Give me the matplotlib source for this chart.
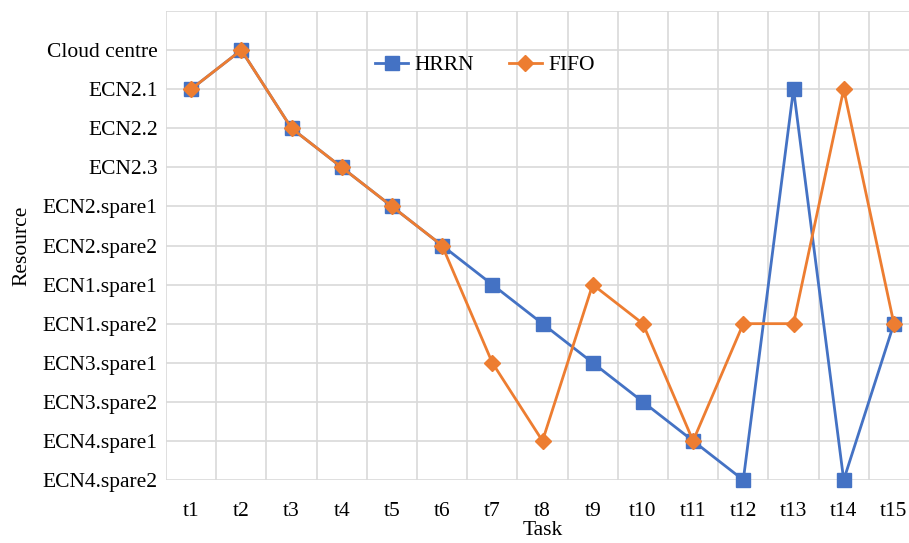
import matplotlib
matplotlib.use("Agg")
import matplotlib.pyplot as plt
import numpy as np

plt.rcParams['font.family'] = ['Liberation Serif', 'DejaVu Serif']

tasks = ['t1', 't2', 't3', 't4', 't5', 't6', 't7', 't8', 't9', 't10', 't11', 't12', 't13', 't14', 't15']
resources = ['ECN4.spare2', 'ECN4.spare1', 'ECN3.spare2', 'ECN3.spare1', 'ECN1.spare2', 'ECN1.spare1',
             'ECN2.spare2', 'ECN2.spare1', 'ECN2.3', 'ECN2.2', 'ECN2.1', 'Cloud centre']

# resource index (0 = ECN4.spare2 ... 11 = Cloud centre)
hrrn = [10, 11, 9, 8, 7, 6, 5, 4, 3, 2, 1, 0, 10, 0, 4]
fifo = [10, 11, 9, 8, 7, 6, 3, 1, 5, 4, 1, 4, 4, 10, 4]

fig = plt.figure(figsize=(9.09, 5.43), dpi=100)
ax = fig.add_axes([166 / 909, 1 - 480 / 543, 753 / 909, 469 / 543])

x = np.arange(1, len(tasks) + 1)
ax.plot(x, hrrn, color='#4472C4', marker='s', markersize=10, linewidth=2, label='HRRN', zorder=3, clip_on=False)
ax.plot(x, fifo, color='#ED7D31', marker='D', markersize=8, linewidth=2, label='FIFO', zorder=4, clip_on=False)

ax.set_xlim(0.5, len(tasks) + 0.5)
ax.set_ylim(0, 12)
ax.set_xticks(x)
ax.set_xticklabels(tasks, fontsize=15.5)
ax.set_xticks(np.arange(0.5, len(tasks) + 1), minor=True)
ax.set_yticks(np.arange(0, 13))
ax.set_yticklabels(resources + [''], fontsize=15.5)
ax.tick_params(which='both', length=0)
ax.tick_params(axis='x', pad=16)
ax.tick_params(axis='y', pad=6)
ax.grid(True, which='minor', axis='x', color='#D9D9D9', linewidth=1.2)
ax.grid(True, which='major', axis='y', color='#D9D9D9', linewidth=1.2)
ax.set_axisbelow(True)
for s in ax.spines.values():
    s.set_visible(False)

ax.set_xlabel('Task', fontsize=15.5, labelpad=0)
ax.set_ylabel('Resource', fontsize=15.5, labelpad=8)

ax.legend(loc='center', frameon=False, ncol=2, fontsize=15.5, handlelength=1.55,
          handletextpad=0.3, columnspacing=1.6,
          bbox_to_anchor=((485 - 166) / 753, (480 - 65) / 469), bbox_transform=ax.transAxes)

fig.savefig('out.png', dpi=100)
